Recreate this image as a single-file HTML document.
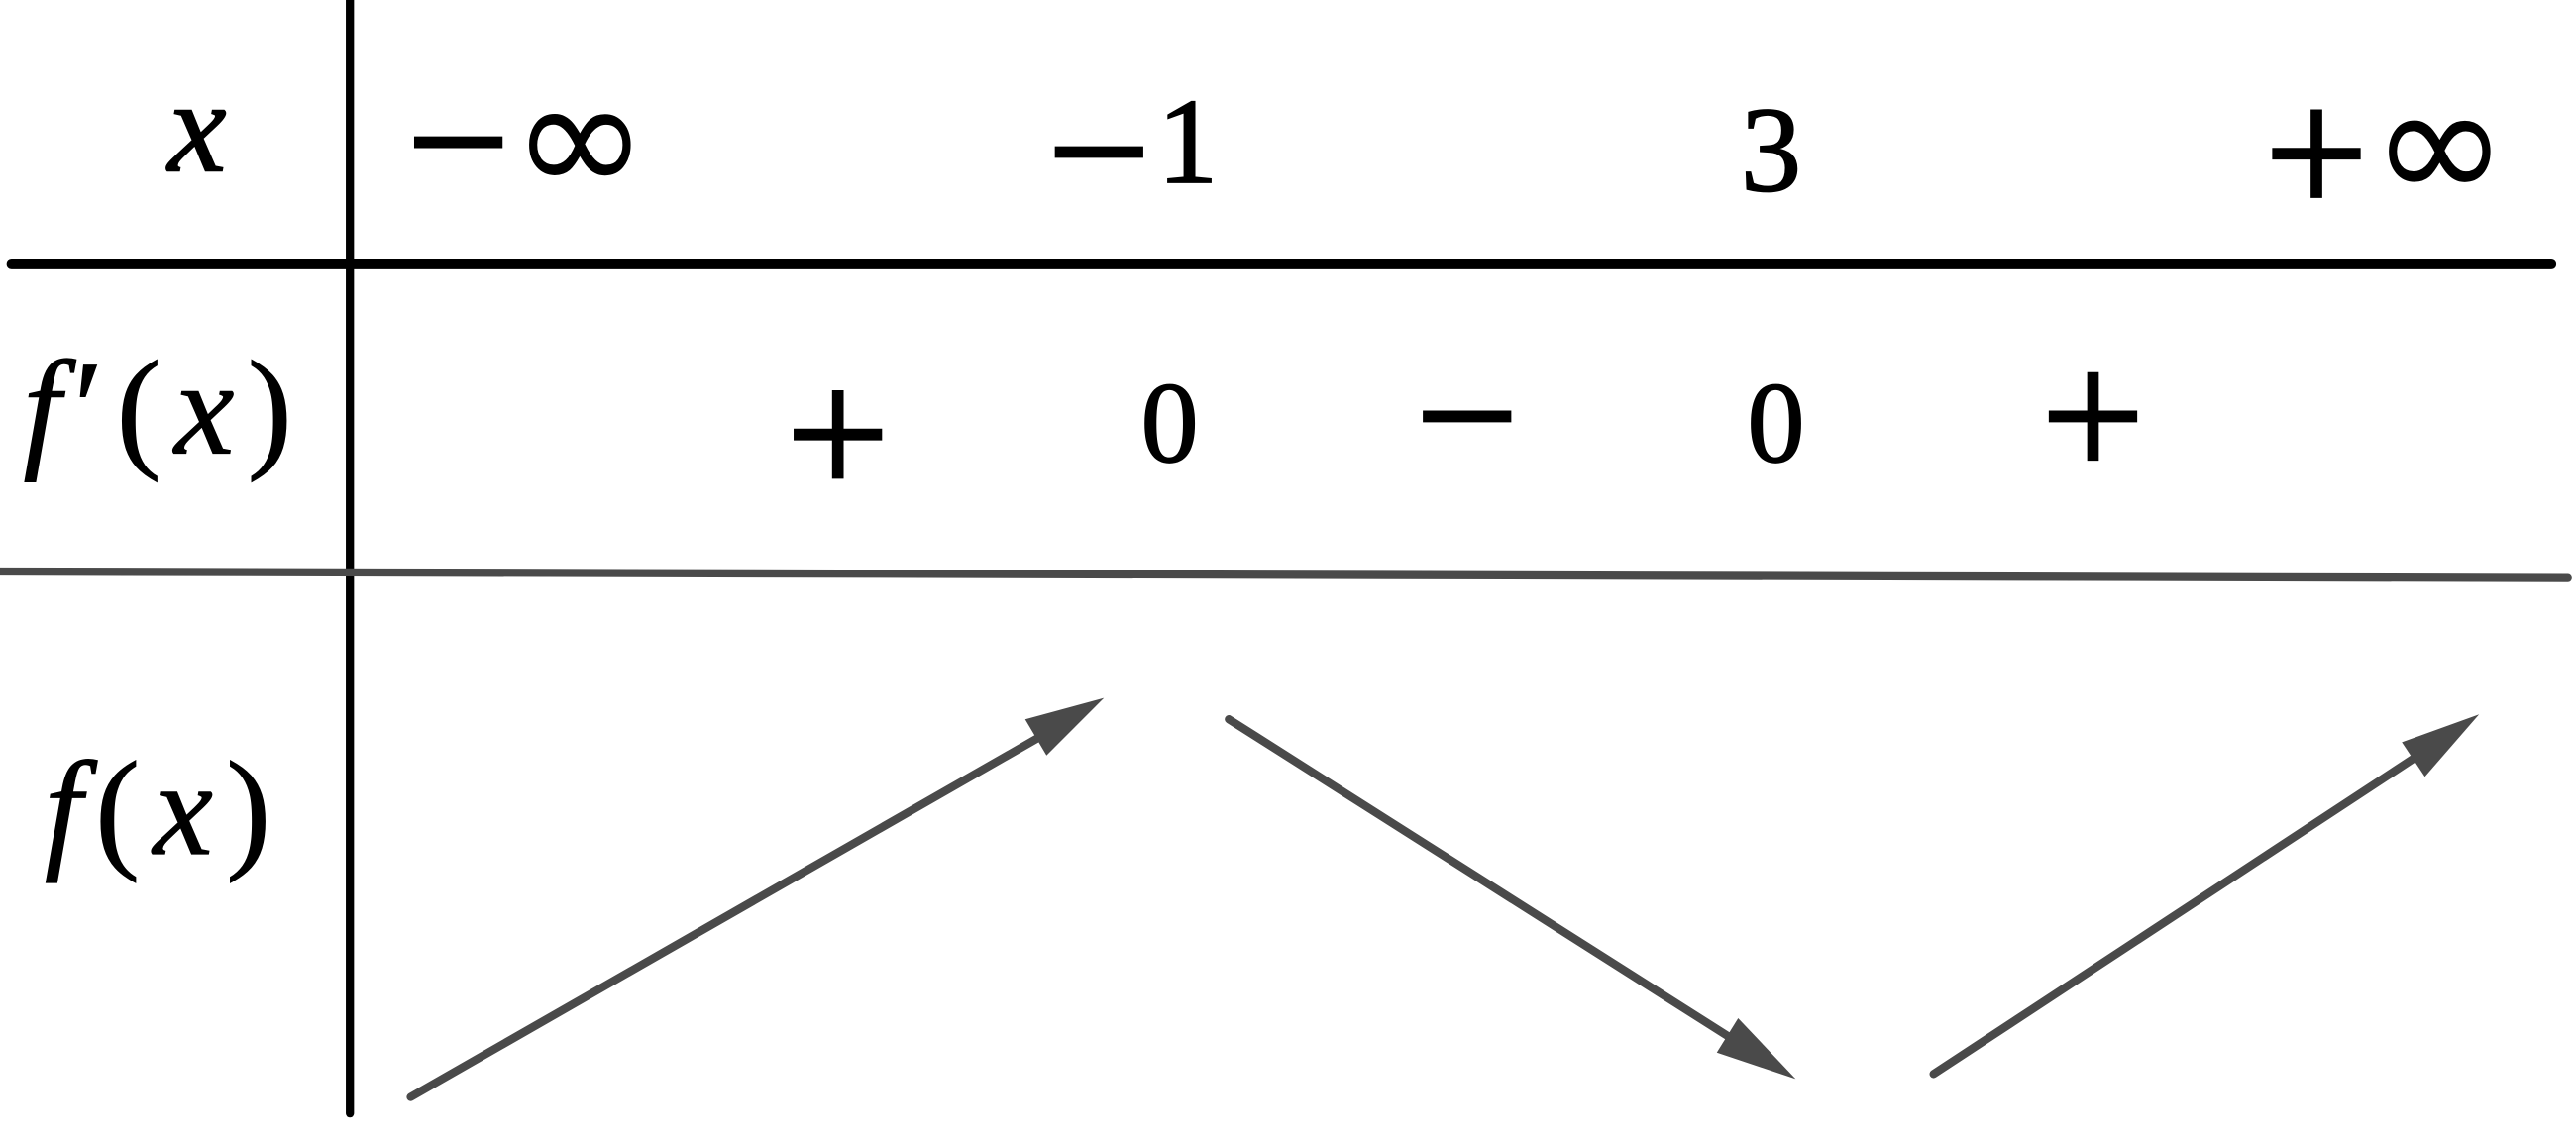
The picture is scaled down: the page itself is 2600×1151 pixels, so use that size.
<!DOCTYPE html>
<html><head><meta charset="utf-8"><style>
html,body{margin:0;padding:0;background:#fff;overflow:hidden}
svg{display:block}
.m{font-family:"Liberation Serif",serif;font-size:74px;fill:#000;text-anchor:middle;stroke:#000;stroke-width:1}
.i{font-style:italic}
.s{font-family:"DejaVu Sans",sans-serif;fill:#000;text-anchor:middle;dominant-baseline:central}
.inf{font-size:100px}
.pm{font-size:86px}
</style></head><body>
<svg width="2600" height="1151" viewBox="0 0 1568 694.2" preserveAspectRatio="none" xmlns="http://www.w3.org/2000/svg">
<rect width="1568" height="695" fill="#fff"/>
<line x1="213" y1="0" x2="213" y2="678" stroke="#000" stroke-width="5" stroke-linecap="round"/>
<line x1="7" y1="161" x2="1553" y2="161" stroke="#000" stroke-width="6" stroke-linecap="round"/>
<line x1="0" y1="348" x2="1563" y2="352" stroke="#4a4a4a" stroke-width="5" stroke-linecap="round"/>
<text class="m i" x="120" y="104" style="font-size:80px">x</text>
<text class="s pm" x="279" y="84">−</text>
<text class="s inf" x="353" y="84">∞</text>
<text class="s pm" x="669" y="90">−</text>
<text class="m" x="723" y="111">1</text>
<text class="m" x="1078" y="116">3</text>
<text class="s pm" x="1410" y="91">+</text>
<text class="s inf" x="1485" y="88">∞</text>
<text class="m" x="100" y="276" style="font-size:82px;stroke-width:0.6;letter-spacing:8px"><tspan class="i">f</tspan>′(<tspan class="i">x</tspan>)</text>
<text class="s pm" x="510" y="262">+</text>
<text class="m" x="712" y="281" style="font-size:70px">0</text>
<text class="s pm" x="893" y="251">−</text>
<text class="m" x="1081" y="281" style="font-size:70px">0</text>
<text class="s pm" x="1274" y="251">+</text>
<text class="m" x="100" y="520" style="font-size:82px;stroke-width:0.6;letter-spacing:8px"><tspan class="i">f</tspan>(<tspan class="i">x</tspan>)</text>
<g stroke="#4a4a4a" stroke-width="5" stroke-linecap="round">
<line x1="250" y1="668" x2="636" y2="447"/>
<line x1="748" y1="438" x2="1055" y2="633"/>
<line x1="1177" y1="654" x2="1472" y2="460"/>
</g>
<g fill="#4a4a4a">
<polygon points="672,425 624,438 637,460"/>
<polygon points="1093,657 1058,620 1045,641"/>
<polygon points="1509,435 1462,452 1476,473"/>
</g>
</svg>
</body></html>
